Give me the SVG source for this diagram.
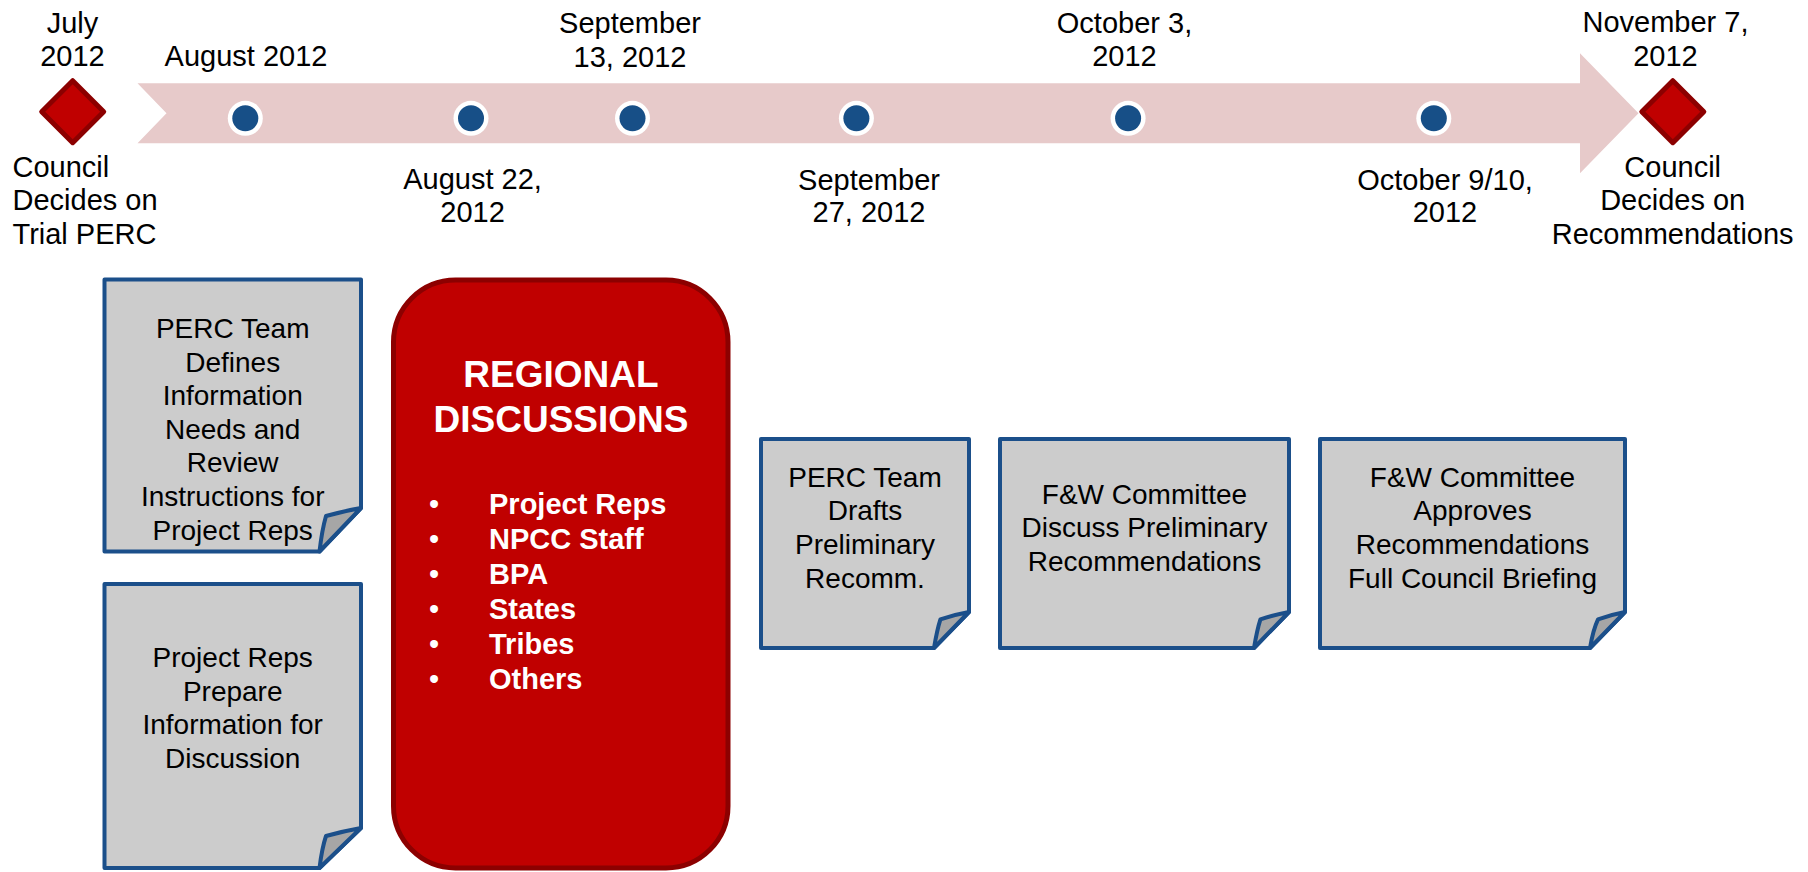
<svg xmlns="http://www.w3.org/2000/svg" width="1808" height="872" viewBox="0 0 1808 872">
<style>
.t{font-family:"Liberation Sans",Arial,sans-serif;font-size:29px;fill:#000}
.c{text-anchor:middle}
.b{font-family:"Liberation Sans",Arial,sans-serif;font-size:28px;fill:#000;text-anchor:middle}
.note{fill:#CCCCCC;stroke:#1B4F8A;stroke-width:4;stroke-linejoin:round}
.flap{fill:#A6A6A6;stroke:#1B4F8A;stroke-width:4;stroke-linejoin:round}
.dia{fill:#C00000;stroke:#8C0000;stroke-width:5;stroke-linejoin:round}
.dotO{fill:#FFFFFF}
.dotI{fill:#174F87}
.rh{font-family:"Liberation Sans",Arial,sans-serif;font-size:37px;font-weight:bold;fill:#FFFFFF;text-anchor:middle}
.rl{font-family:"Liberation Sans",Arial,sans-serif;font-size:29px;font-weight:bold;fill:#FFFFFF}
.bu{font-family:"Liberation Sans",Arial,sans-serif;font-size:29px;fill:#FFFFFF;text-anchor:middle}
</style>
<rect width="1808" height="872" fill="#FFFFFF"/>
<g id="connectors">
<polygon id="timeline-arrow" points="137.5,83.3 1580,83.3 1580,53.3 1638.5,113.3 1580,173.3 1580,143.3 137.5,143.3 166.5,113.3" fill="#E7CACA"/>
</g>
<g id="milestone-july">
<polygon class="dia" points="72.7,80.7 103.7,111.7 72.7,142.7 41.7,111.7"/>
<text class="t c" x="72.5" y="33">July</text>
<text class="t c" x="72.5" y="66">2012</text>
<text class="t" x="12.5" y="176.5">Council</text>
<text class="t" x="12.5" y="210">Decides on</text>
<text class="t" x="12.5" y="243.5">Trial PERC</text>
</g>
<g id="milestone-nov">
<polygon class="dia" points="1672.8,80.7 1703.8,111.7 1672.8,142.7 1641.8,111.7"/>
<text class="t c" x="1665.5" y="32">November 7,</text>
<text class="t c" x="1665.5" y="66">2012</text>
<text class="t c" x="1672.7" y="176.5">Council</text>
<text class="t c" x="1672.7" y="210">Decides on</text>
<text class="t c" x="1672.7" y="243.5">Recommendations</text>
</g>
<g id="dot-aug">
<circle class="dotO" cx="245.3" cy="118.3" r="17.5"/><circle class="dotI" cx="245.3" cy="118.3" r="13"/>
<text class="t c" x="246" y="65.5">August 2012</text>
</g>
<g id="dot-aug22">
<circle class="dotO" cx="471" cy="118.3" r="17.5"/><circle class="dotI" cx="471" cy="118.3" r="13"/>
<text class="t c" x="472.6" y="188.5">August 22,</text>
<text class="t c" x="472.6" y="221.5">2012</text>
</g>
<g id="dot-sep13">
<circle class="dotO" cx="632.5" cy="118.3" r="17.5"/><circle class="dotI" cx="632.5" cy="118.3" r="13"/>
<text class="t c" x="630" y="33">September</text>
<text class="t c" x="630" y="66.5">13, 2012</text>
</g>
<g id="dot-sep27">
<circle class="dotO" cx="856.4" cy="118.3" r="17.5"/><circle class="dotI" cx="856.4" cy="118.3" r="13"/>
<text class="t c" x="869" y="189.5">September</text>
<text class="t c" x="869" y="222">27, 2012</text>
</g>
<g id="dot-oct3">
<circle class="dotO" cx="1128.1" cy="118.3" r="17.5"/><circle class="dotI" cx="1128.1" cy="118.3" r="13"/>
<text class="t c" x="1124.5" y="33">October 3,</text>
<text class="t c" x="1124.5" y="65.5">2012</text>
</g>
<g id="dot-oct9">
<circle class="dotO" cx="1433.8" cy="118.3" r="17.5"/><circle class="dotI" cx="1433.8" cy="118.3" r="13"/>
<text class="t c" x="1445" y="189.5">October 9/10,</text>
<text class="t c" x="1445" y="222">2012</text>
</g>
<g id="box-perc-defines">
<path class="note" d="M104.5,279.5 H361 V508 L319.5,551.5 H104.5 Z"/>
<path class="flap" d="M319.5,551.5 Q322,530 326,516 Q344,511 361,508 Z"/>
<text class="b" x="232.7" y="338">PERC Team</text>
<text class="b" x="232.7" y="371.6">Defines</text>
<text class="b" x="232.7" y="405.2">Information</text>
<text class="b" x="232.7" y="438.8">Needs and</text>
<text class="b" x="232.7" y="472.4">Review</text>
<text class="b" x="232.7" y="506">Instructions for</text>
<text class="b" x="232.7" y="539.6">Project Reps</text>
</g>
<g id="box-reps-prepare">
<path class="note" d="M104.5,584 H361 V828 L319.5,868 H104.5 Z"/>
<path class="flap" d="M319.5,868 Q322,848 326,836 Q344,831 361,828 Z"/>
<text class="b" x="232.7" y="667.2">Project Reps</text>
<text class="b" x="232.7" y="700.8">Prepare</text>
<text class="b" x="232.7" y="734.4">Information for</text>
<text class="b" x="232.7" y="768">Discussion</text>
</g>
<g id="box-regional">
<rect x="393.5" y="280" width="334.5" height="588" rx="62" ry="62" fill="#C00000" stroke="#8C0000" stroke-width="5"/>
<text class="rh" x="561" y="386.8">REGIONAL</text>
<text class="rh" x="561" y="431.7">DISCUSSIONS</text>
<text class="bu" x="434" y="513.7">•</text><text class="rl" x="489" y="513.7">Project Reps</text>
<text class="bu" x="434" y="548.8">•</text><text class="rl" x="489" y="548.8">NPCC Staff</text>
<text class="bu" x="434" y="583.9">•</text><text class="rl" x="489" y="583.9">BPA</text>
<text class="bu" x="434" y="619">•</text><text class="rl" x="489" y="619">States</text>
<text class="bu" x="434" y="654.1">•</text><text class="rl" x="489" y="654.1">Tribes</text>
<text class="bu" x="434" y="689.2">•</text><text class="rl" x="489" y="689.2">Others</text>
</g>
<g id="box-perc-drafts">
<path class="note" d="M761,439 H969 V612 L934,648 H761 Z"/>
<path class="flap" d="M934,648 Q937,630 940.4,619.3 Q955,614.5 969,612 Z"/>
<text class="b" x="865" y="486.7">PERC Team</text>
<text class="b" x="865" y="520.3">Drafts</text>
<text class="b" x="865" y="553.9">Preliminary</text>
<text class="b" x="865" y="587.5">Recomm.</text>
</g>
<g id="box-fw-discuss">
<path class="note" d="M1000,439 H1289 V612 L1254,648 H1000 Z"/>
<path class="flap" d="M1254,648 Q1257,630 1260.4,619.3 Q1275,614.5 1289,612 Z"/>
<text class="b" x="1144.5" y="503.5">F&amp;W Committee</text>
<text class="b" x="1144.5" y="537.1">Discuss Preliminary</text>
<text class="b" x="1144.5" y="570.7">Recommendations</text>
</g>
<g id="box-fw-approves">
<path class="note" d="M1320,439 H1625 V612 L1590,648 H1320 Z"/>
<path class="flap" d="M1590,648 Q1593,630 1598,619.3 Q1612,614.5 1625,612 Z"/>
<text class="b" x="1472.5" y="486.7">F&amp;W Committee</text>
<text class="b" x="1472.5" y="520.3">Approves</text>
<text class="b" x="1472.5" y="553.9">Recommendations</text>
<text class="b" x="1472.5" y="587.5">Full Council Briefing</text>
</g>
</svg>
